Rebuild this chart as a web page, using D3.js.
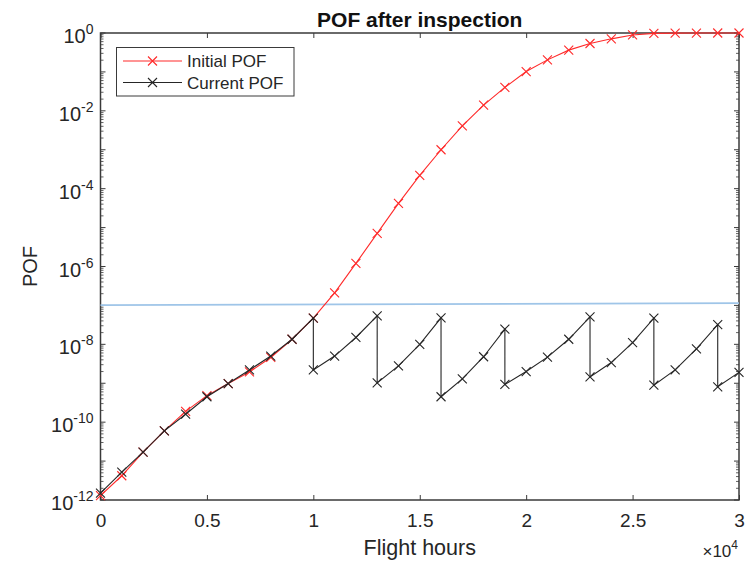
<!DOCTYPE html>
<html>
<head>
<meta charset="utf-8">
<script src="https://cdn.jsdelivr.net/npm/d3@7"></script>
<style>
  html, body { margin: 0; padding: 0; background: #fff; }
  svg { display: block; font-family: "Liberation Sans", Arial, sans-serif; }
</style>
</head>
<body>
<svg id="chart" width="755" height="561"></svg>
<script>
// Flight hours at which POF is evaluated
const hours = [0, 1000, 2000, 3000, 4000, 5000, 6000, 7000, 8000, 9000, 10000,
  11000, 12000, 13000, 14000, 15000, 16000, 17000, 18000, 19000, 20000,
  21000, 22000, 23000, 24000, 25000, 26000, 27000, 28000, 29000, 30000];

// POF without any inspection
const initialPOF = [1.3e-12, 4.2e-12, 1.7e-11, 6.0e-11, 1.9e-10, 4.8e-10, 9.8e-10, 1.95e-9, 4.6e-9, 1.35e-8, 4.7e-8,
  2.1e-7, 1.2e-6, 7.1e-6, 4.2e-5, 2.2e-4, 1.0e-3, 4.1e-3, 1.4e-2, 4.0e-2, 0.102,
  0.204, 0.363, 0.537, 0.708, 0.89, 0.977, 0.995, 0.999, 1.0, 1.0];

// POF with inspections (each inspection drops the POF: two points at the same hour)
const currentHours = [0, 1000, 2000, 3000, 4000, 5000, 6000, 7000, 8000, 9000,
  10000, 10000, 11000, 12000, 13000, 13000, 14000, 15000, 16000, 16000,
  17000, 18000, 19000, 19000, 20000, 21000, 22000, 23000, 23000, 24000,
  25000, 26000, 26000, 27000, 28000, 29000, 29000, 30000];
const currentPOF = [1.5e-12, 5.2e-12, 1.7e-11, 6.0e-11, 1.6e-10, 4.5e-10, 9.8e-10, 2.2e-9, 5.0e-9, 1.35e-8,
  4.7e-8, 2.2e-9, 5.0e-9, 1.5e-8, 5.4e-8, 1.02e-9, 2.8e-9, 1.0e-8, 4.8e-8, 4.5e-10,
  1.3e-9, 4.8e-9, 2.45e-8, 9.3e-10, 2.0e-9, 4.7e-9, 1.35e-8, 5.1e-8, 1.45e-9, 3.4e-9,
  1.1e-8, 4.7e-8, 8.9e-10, 2.2e-9, 7.6e-9, 3.2e-8, 8.1e-10, 1.9e-9];

// POF threshold line
const thresholdHours = [0, 30000];
const thresholdPOF = [1.02e-7, 1.15e-7];

// Axis ticks
const xTicks = [0, 5000, 10000, 15000, 20000, 25000, 30000];
const xTickLabels = ["0", "0.5", "1", "1.5", "2", "2.5", "3"];
const yLabelExponents = [0, -2, -4, -6, -8, -10, -12];

(function draw() {
  const svg = d3.select("#chart");
  const pL = 100.5, pR = 739, pT = 33, pB = 500;
  const axisColor = "#3a3a3a";
  const textColor = "#262626";

  const x = d3.scaleLinear().domain([0, 30000]).range([pL, pR]);
  const y = d3.scaleLog().domain([1e-12, 1]).range([pB, pT]);

  // Title
  svg.append("text")
    .attr("x", (pL + pR) / 2).attr("y", 27)
    .attr("text-anchor", "middle")
    .attr("font-size", 21).attr("font-weight", "bold").attr("fill", "#111")
    .text("POF after inspection");

  // Axes: box with inward ticks on all sides
  const bottomAxis = d3.axisBottom(x).tickValues(xTicks).tickFormat((d, i) => xTickLabels[i])
    .tickSizeInner(-5).tickSizeOuter(0).tickPadding(14);
  const gx = svg.append("g").attr("transform", `translate(0,${pB})`).call(bottomAxis);
  gx.selectAll("text").attr("font-size", 19).attr("fill", textColor)
    .attr("font-family", "Liberation Sans, Arial, sans-serif");

  const topAxis = d3.axisTop(x).tickValues(xTicks).tickFormat("").tickSizeInner(-5).tickSizeOuter(0);
  svg.append("g").attr("transform", `translate(0,${pT})`).call(topAxis);

  // y ticks: majors at every decade, minors 2..9
  const majors = d3.range(-12, 1).map(e => Math.pow(10, e));
  const minors = [];
  for (let e = -12; e < 0; e++) for (let m = 2; m <= 9; m++) minors.push(m * Math.pow(10, e));

  function yAxis(side) {
    const g = svg.append("g");
    const x0 = side === "left" ? pL : pR;
    const dir = side === "left" ? 1 : -1;
    g.selectAll("line.maj").data(majors).join("line").attr("class", "maj")
      .attr("x1", x0).attr("x2", x0 + dir * 5)
      .attr("y1", d => y(d)).attr("y2", d => y(d))
      .attr("stroke", axisColor).attr("stroke-width", 1);
    g.selectAll("line.min").data(minors).join("line").attr("class", "min")
      .attr("x1", x0).attr("x2", x0 + dir * 3)
      .attr("y1", d => y(d)).attr("y2", d => y(d))
      .attr("stroke", axisColor).attr("stroke-width", 0.8);
  }
  yAxis("left");
  yAxis("right");

  svg.selectAll(".domain").remove();
  svg.selectAll(".tick line").attr("stroke", axisColor);

  // Frame
  svg.append("rect")
    .attr("x", pL).attr("y", pT).attr("width", pR - pL).attr("height", pB - pT)
    .attr("fill", "none").attr("stroke", axisColor).attr("stroke-width", 1.5);

  // y tick labels as 10 with superscript exponent
  const yl = svg.append("g").attr("fill", textColor).attr("font-size", 20);
  yLabelExponents.forEach(e => {
    const t = yl.append("text")
      .attr("x", pL - 7).attr("y", y(Math.pow(10, e)) + 10)
      .attr("text-anchor", "end");
    t.append("tspan").text("10");
    t.append("tspan").attr("font-size", 14).attr("dy", -9).text(e === 0 ? "0" : "-" + Math.abs(e));
  });

  // Axis labels
  svg.append("text")
    .attr("x", (pL + pR) / 2).attr("y", 555)
    .attr("text-anchor", "middle").attr("font-size", 21.5).attr("fill", textColor)
    .text("Flight hours");

  svg.append("text")
    .attr("transform", `translate(37,${(pT + pB) / 2}) rotate(-90)`)
    .attr("text-anchor", "middle").attr("font-size", 20).attr("fill", textColor)
    .text("POF");

  // x-axis multiplier
  const mult = svg.append("text")
    .attr("x", 738).attr("y", 557).attr("text-anchor", "end")
    .attr("font-size", 17).attr("fill", textColor);
  mult.append("tspan").text("\u00d710");
  mult.append("tspan").attr("font-size", 12).attr("dy", -8).text("4");

  // Series
  const line = d3.line().x(d => x(d[0])).y(d => y(d[1]));
  const initialData = hours.map((h, i) => [h, initialPOF[i]]);
  const currentData = currentHours.map((h, i) => [h, currentPOF[i]]);
  const thresholdData = thresholdHours.map((h, i) => [h, thresholdPOF[i]]);

  const red = "#ff2a2a";
  const black = "#262626";
  const blue = "#9fc5e8";

  svg.append("path").datum(thresholdData).attr("d", line)
    .attr("fill", "none").attr("stroke", blue).attr("stroke-width", 1.8);

  function drawSeries(data, color) {
    svg.append("path").datum(data).attr("d", line)
      .attr("fill", "none").attr("stroke", color).attr("stroke-width", 1.1);
    const s = 4.5;
    svg.append("g").selectAll("path").data(data).join("path")
      .attr("d", d => {
        const cx = x(d[0]), cy = y(d[1]);
        return `M${cx - s},${cy - s}L${cx + s},${cy + s}M${cx - s},${cy + s}L${cx + s},${cy - s}`;
      })
      .attr("fill", "none").attr("stroke", color).attr("stroke-width", 1.1);
  }
  drawSeries(initialData, red);
  drawSeries(currentData, black);

  // Legend
  const lg = svg.append("g");
  lg.append("rect").attr("x", 116.5).attr("y", 47.5).attr("width", 177.5).attr("height", 48.5)
    .attr("fill", "#fff").attr("stroke", axisColor).attr("stroke-width", 1);
  const items = [{ name: "Initial POF", color: red }, { name: "Current POF", color: black }];
  items.forEach((it, i) => {
    const cy = 61 + i * 21.5;
    lg.append("line").attr("x1", 123).attr("x2", 182).attr("y1", cy).attr("y2", cy)
      .attr("stroke", it.color).attr("stroke-width", 1.1);
    const s = 4.5, cx = 152.5;
    lg.append("path").attr("d", `M${cx - s},${cy - s}L${cx + s},${cy + s}M${cx - s},${cy + s}L${cx + s},${cy - s}`)
      .attr("stroke", it.color).attr("stroke-width", 1.1).attr("fill", "none");
    lg.append("text").attr("x", 187).attr("y", cy + 6).attr("font-size", 17).attr("fill", textColor)
      .text(it.name);
  });
})();
</script>
</body>
</html>
